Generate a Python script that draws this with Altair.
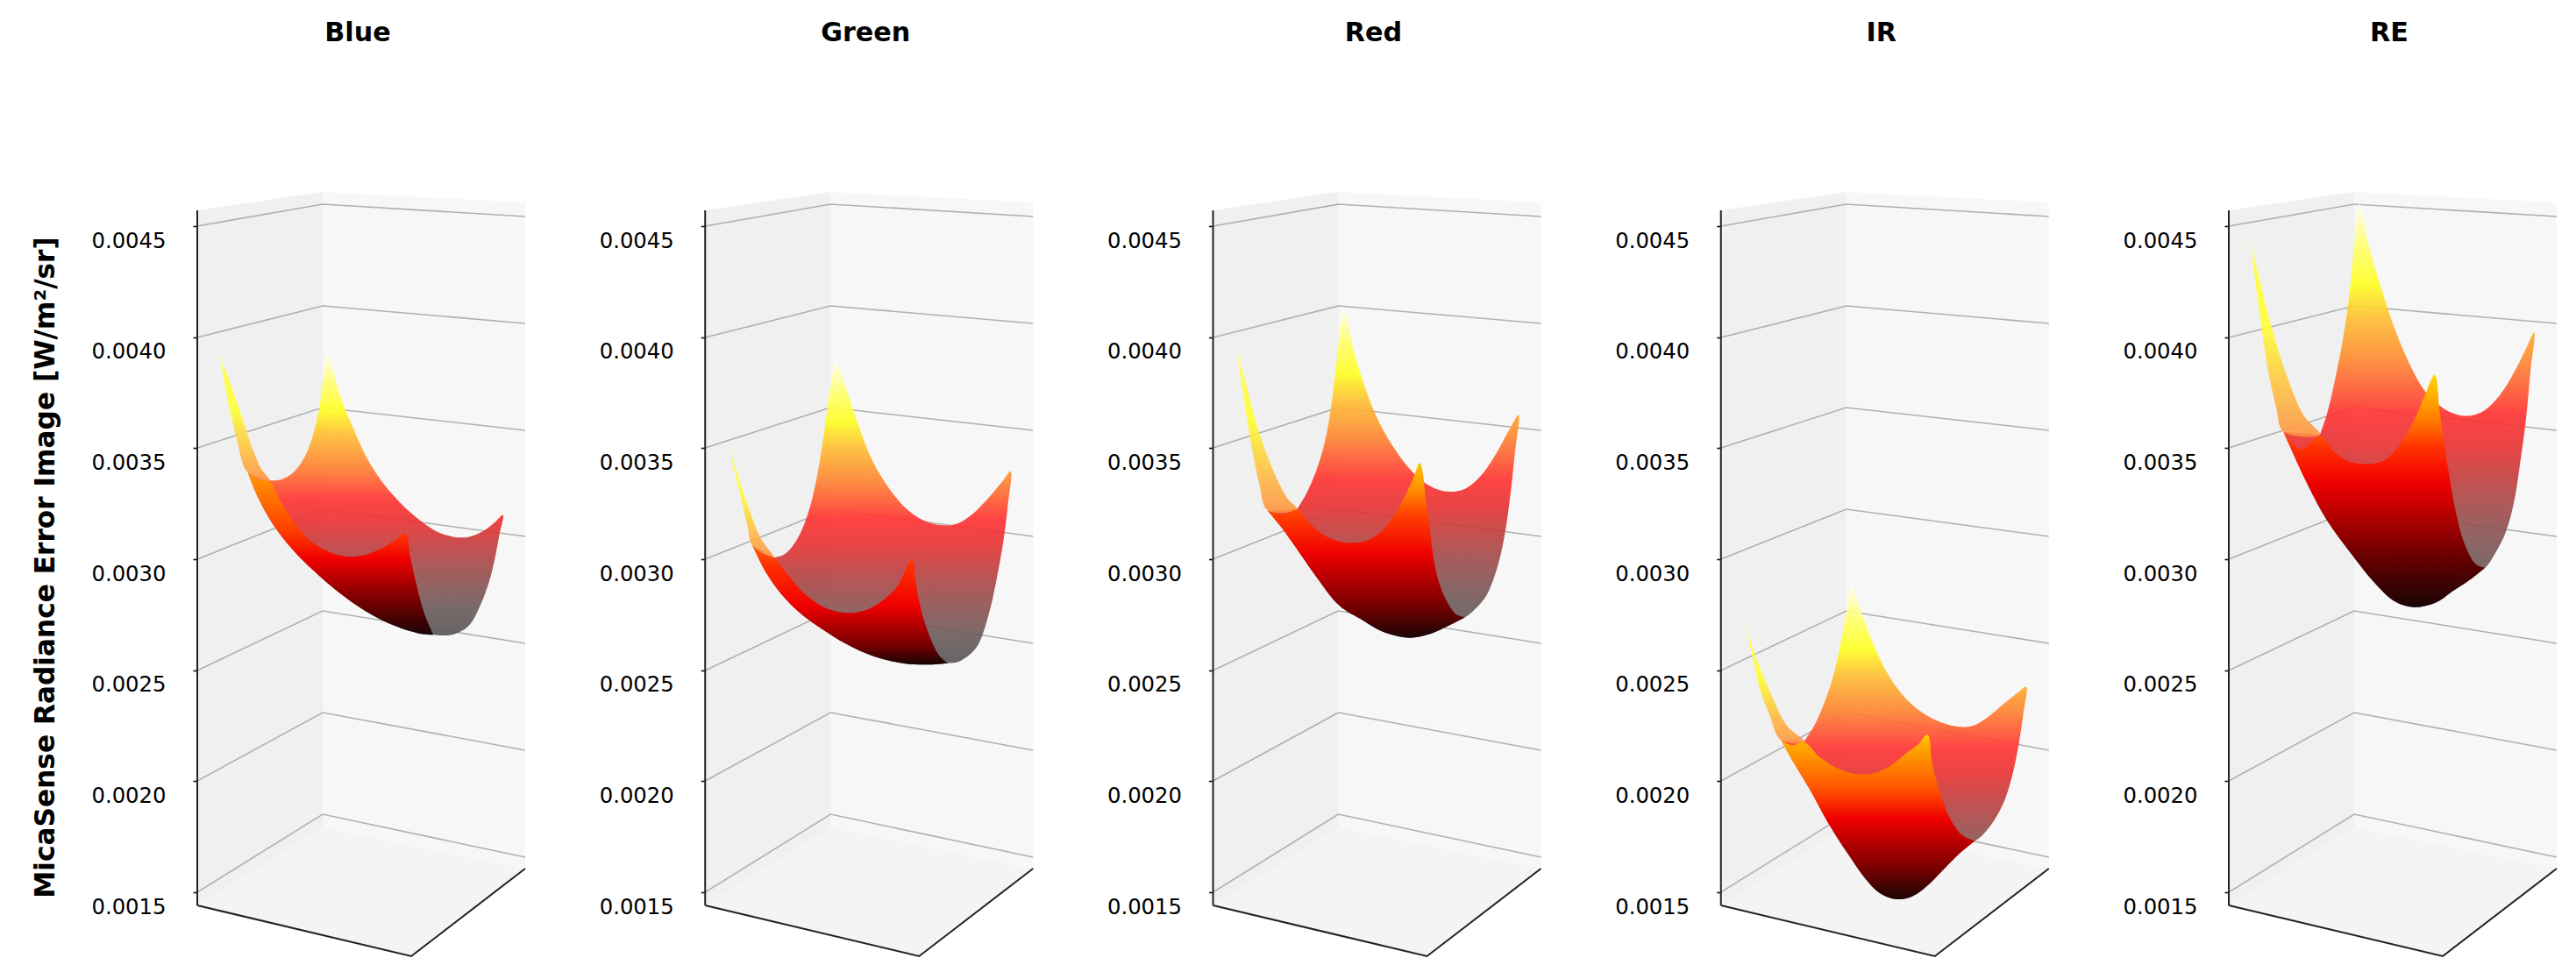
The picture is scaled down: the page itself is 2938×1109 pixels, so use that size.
import altair as alt
import pandas as pd

BANDS = ["Blue", "Green", "Red", "IR", "RE"]
Z_TICKS = [0.0015, 0.0020, 0.0025, 0.0030, 0.0035, 0.0040, 0.0045]
Y_TITLE = "MicaSense Radiance Error Image [W/m²/sr]"

# Height readings are taken in picture rows and turned into axis values below.
GRID_X = [224, 367, 598]
GRID_LEFT = [257, 384, 510, 637, 764, 890, 1017]
GRID_BACK = [232, 348, 464, 580, 696, 812, 928]
GRID_RIGHT = [246, 368, 490, 611, 733, 855, 977]

LEFT_PANE = [(224, 239), (367, 218), (367, 943), (224, 1032)]
RIGHT_PANE = [(367, 218), (598, 230), (598, 990), (367, 943)]
FLOOR_PANE = [(224, 1032), (367, 943), (598, 990), (468, 1090)]
Z_LINE = [(224, 239), (224, 1032)]
FLOOR_LINE = [(224, 1032), (468, 1090), (598, 990)]

# Surface outlines, one group per band (x, y inside the zoomed panel crop).
CROP_Y = [370, 390, 330, 640, 210]

blue_back_top = [(320,532),(360,528),(400,505),(440,450),(470,370),(490,280),(505,170),(518,100),(560,240),(600,340),(650,450),(700,530),(750,590),(800,640),(850,680),(900,710),(950,725),(1000,725),(1050,705),(1090,675),(1118,650)]
blue_right_sil = [(1105,720),(1090,800),(1070,880),(1040,960),(1000,1030),(950,1058),(900,1062)]
blue_low_sil = [(880,1060),(830,1055),(750,1030),(650,980),(550,910),(470,840),(400,770),(330,680),(280,590),(245,505)]
blue_up_sil = [(205,380),(175,250),(148,100)]
blue_strip_right = [(180,185),(220,300),(260,420),(290,490),(320,532)]
blue_strip_low = [(245,505),(280,530),(320,536)]
blue_front_left = [(350,590),(400,670),(450,730),(500,765),(550,785),(600,792),(650,785),(700,765),(750,735),(785,712)]
blue_f_edge = [(800,790),(820,880),(850,990),(880,1060)]
blue_front_stops = [(1060,"#1a0505"),(950,"#700000"),(800,"#f00000"),(700,"#ff4000"),(560,"#ff8000"),(500,"#ffa000")]

green_back_top = [(305,735),(340,725),(380,680),(420,590),(450,470),(475,320),(495,180),(517,62),(550,150),(590,270),(640,400),(700,500),(760,570),(820,610),(880,625),(930,620),(980,590),(1040,530),(1090,470),(1115,440)]
green_right_sil = [(1105,560),(1090,680),(1065,820),(1040,930),(1000,1040),(950,1085),(920,1096)]
green_low_sil = [(900,1097),(830,1102),(750,1098),(650,1075),(550,1030),(470,980),(400,930),(330,860),(280,790),(232,695)]
green_up_sil = [(215,630),(190,520),(170,440),(147,342)]
green_strip_right = [(180,450),(220,570),(260,670),(305,735)]
green_strip_low = [(232,695),(270,725),(305,738)]
green_front_left = [(350,790),(400,850),(450,890),(500,915),(560,925),(620,915),(680,880),(730,830),(777,738)]
green_f_edge = [(790,820),(810,920),(840,1010),(870,1070),(900,1097)]
green_front_stops = [(1100,"#1a0505"),(1040,"#700000"),(900,"#f00000"),(760,"#ff3000"),(700,"#ff6000")]

red_back_top = [(355,750),(385,700),(420,620),(450,520),(470,410),(490,250),(515,60),(550,210),(590,340),(630,440),(680,530),(730,600),(785,655),(830,680),(880,690),(930,680),(980,640),(1030,570),(1080,480),(1113,427)]
red_right_sil = [(1100,560),(1085,700),(1065,840),(1040,950),(1000,1050),(950,1105)]
red_low_sil = [(930,1120),(850,1160),(800,1180),(740,1190),(650,1170),(580,1130),(500,1080),(420,980),(350,880),(300,810),(255,755)]
red_up_sil = [(225,660),(195,510),(170,350),(145,185)]
red_strip_right = [(180,320),(220,470),(270,610),(320,710),(355,750)]
red_strip_low = [(255,755),(310,768),(355,752)]
red_front_left = [(400,800),(450,840),(500,860),(550,865),(600,855),(650,820),(700,750),(750,650),(775,592)]
red_f_edge = [(800,750),(830,960),(860,1050),(900,1110),(930,1120)]
red_front_stops = [(1190,"#1a0505"),(1090,"#700000"),(900,"#f00000"),(770,"#ff4000"),(680,"#ff9000"),(600,"#ffc000")]

ir_back_top = [(350,615),(385,560),(420,480),(450,390),(475,280),(495,170),(512,85),(545,170),(590,290),(640,390),(700,470),(760,520),(820,550),(880,565),(930,560),(980,530),(1040,480),(1085,445),(1110,428)]
ir_right_sil = [(1100,520),(1085,620),(1060,740),(1030,830),(990,900),(950,945)]
ir_low_sil = [(935,955),(880,1000),(830,1050),(770,1110),(720,1145),(665,1155),(610,1135),(560,1085),(500,1000),(430,890),(370,780),(310,680),(272,612)]
ir_up_sil = [(230,520),(200,440),(170,310),(145,208)]
ir_strip_right = [(190,340),(240,460),(290,560),(350,615)]
ir_strip_low = [(272,612),(310,628),(350,617)]
ir_front_left = [(400,665),(450,700),(500,720),(550,728),(600,720),(650,695),(700,655),(740,625),(772,592)]
ir_f_edge = [(790,700),(815,790),(850,880),(890,935),(935,955)]
ir_front_stops = [(1155,"#1a0505"),(1060,"#700000"),(880,"#f00000"),(780,"#ff5000"),(700,"#ff8000"),(620,"#ffb000"),(590,"#ffd800")]

re_back_top = [(375,855),(400,780),(430,650),(455,520),(475,380),(490,230),(510,65),(540,200),(580,340),(630,490),(680,610),(730,700),(790,760),(840,785),(890,790),(940,770),(990,720),(1040,640),(1080,560),(1108,505)]
re_right_sil = [(1095,640),(1080,800),(1060,950),(1040,1080),(1010,1190),(975,1260),(950,1300)]
re_low_sil = [(940,1310),(890,1350),(830,1390),(770,1430),(695,1445),(630,1425),(560,1360),(480,1260),(400,1150),(330,1020),(250,845)]
re_up_sil = [(225,760),(195,620),(170,450),(150,300),(135,180)]
re_strip_right = [(170,330),(210,490),(260,650),(320,790),(375,855)]
re_strip_low = [(250,845),(310,905),(375,860)]
re_front_left = [(420,910),(470,945),(530,955),(590,945),(640,900),(690,820),(730,730),(768,650)]
re_f_edge = [(785,780),(810,950),(840,1120),(870,1230),(910,1300),(940,1310)]
re_front_stops = [(1445,"#1a0505"),(1290,"#600000"),(1020,"#f00000"),(900,"#ff3000"),(820,"#ff7000"),(720,"#ffb000"),(650,"#ffd800")]

# Inner side colours against the share of the surface's height range.
BACK_STOPS = [(1.0,"#fffff0"),(0.9,"#ffff70"),(0.8,"#ffff20"),(0.72,"#ffc030"),(0.6,"#ff8030"),(0.48,"#ff3030"),(0.4,"#e83030"),(0.3,"#b84040"),(0.2,"#905050"),(0.1,"#6c5a5a"),(0.0,"#555555")]
# Left sliver colours, top to bottom of the sliver itself.
STRIP_STOPS = [(0.0,"#ffffc0"),(0.15,"#ffff40"),(0.45,"#ffff30"),(0.75,"#ffc040"),(1.0,"#ff9040")]

SURFACES = [
    (blue_back_top, blue_right_sil, blue_low_sil, blue_up_sil, blue_strip_right, blue_strip_low, blue_front_left, blue_f_edge, blue_front_stops),
    (green_back_top, green_right_sil, green_low_sil, green_up_sil, green_strip_right, green_strip_low, green_front_left, green_f_edge, green_front_stops),
    (red_back_top, red_right_sil, red_low_sil, red_up_sil, red_strip_right, red_strip_low, red_front_left, red_f_edge, red_front_stops),
    (ir_back_top, ir_right_sil, ir_low_sil, ir_up_sil, ir_strip_right, ir_strip_low, ir_front_left, ir_f_edge, ir_front_stops),
    (re_back_top, re_right_sil, re_low_sil, re_up_sil, re_strip_right, re_strip_low, re_front_left, re_f_edge, re_front_stops),
]

PX_PER_STEP = 126.67
PLOT_TOP, PLOT_BOTTOM = 205, 1100
X_LEFT, X_RIGHT = 224, 600
STEP = 203.25
FONT = "DejaVu Sans"


def z_of(row):
    return 0.0045 - (row - 257) * 0.0005 / PX_PER_STEP


X = alt.X("x:Q", scale=alt.Scale(domain=[X_LEFT, X_RIGHT], nice=False, zero=False), axis=None)
Y_SCALE = alt.Scale(domain=[z_of(PLOT_BOTTOM), z_of(PLOT_TOP)], nice=False, zero=False)


def table(points):
    return pd.DataFrame({"x": [p[0] for p in points], "z": [z_of(p[1]) for p in points], "i": list(range(len(points)))})


def gradient(stops, points):
    rows = [p[1] for p in points]
    top, bottom = min(rows), max(rows)
    ordered = sorted(stops, key=lambda s: s[0])
    return alt.Gradient(gradient="linear", x1=0, x2=0, y1=0, y2=1, stops=[
        alt.GradientStop(color=c, offset=min(1, max(0, (r - top) / (bottom - top)))) for r, c in ordered])


def band_panel(n):
    back_top, right_sil, low_sil, up_sil, strip_right, strip_low, front_left, f_edge, front_stops = SURFACES[n]
    cy = CROP_Y[n]

    def place(pts):
        return [(200 + 0.75 * n + vx / 3, cy + vy / 3) for vx, vy in pts]

    y_axis = alt.Axis(
        values=Z_TICKS, format=".4f", domain=False, grid=False, ticks=True, tickSize=5, tickWidth=1.6,
        tickColor="#111111", labelOffset=17, labelPadding=31, labelFontSize=24.3, labelFont=FONT,
        labelColor="#000000", title=Y_TITLE if n == 0 else None, titleFont=FONT, titleFontSize=31.2,
        titleFontWeight="bold", titleColor="#000000", titlePadding=35, titleY=441)
    Y = alt.Y("z:Q", scale=Y_SCALE, axis=y_axis)

    def polygon(points, fill, opacity=1.0, curve="linear"):
        return alt.Chart(table(points)).mark_line(
            fill=fill, stroke="transparent", strokeWidth=0, opacity=opacity, clip=True, interpolate=curve
        ).encode(x=X, y=Y, order="i:O")

    back = place(back_top + right_sil + low_sil)
    strip = place(up_sil[-1:] + strip_right + low_sil[-1:] + up_sil)
    front = place(strip_low + front_left + f_edge + low_sil)

    tip = min(p[1] for p in back)
    low = max(p[1] for p in back)
    back_stops = [(low - t * (low - tip), c) for t, c in BACK_STOPS]
    placed_front_stops = [(cy + r / 3, c) for r, c in front_stops]
    strip_rows = [p[1] for p in strip]
    strip_stops = [(min(strip_rows) + f * (max(strip_rows) - min(strip_rows)), c) for f, c in STRIP_STOPS]

    grid = pd.DataFrame([
        {"x": x, "z": z_of(r), "tick": str(k), "i": j}
        for k, rows in enumerate(zip(GRID_LEFT, GRID_BACK, GRID_RIGHT))
        for j, (x, r) in enumerate(zip(GRID_X, rows))
    ])
    panes = [polygon(LEFT_PANE, "#f0f0f0"), polygon(RIGHT_PANE, "#f7f7f7"), polygon(FLOOR_PANE, "#f4f4f4")]
    grid_lines = alt.Chart(grid).mark_line(color="#b0b0b0", strokeWidth=1.6).encode(
        x=X, y=Y, detail="tick:N", order="i:O")
    edges = [
        alt.Chart(table(pts)).mark_line(color="#222222", strokeWidth=2).encode(x=X, y=Y, order="i:O")
        for pts in (Z_LINE, FLOOR_LINE)
    ]
    surface = [
        polygon(back, gradient(back_stops, back), 0.9, "catmull-rom"),
        polygon(strip, gradient(strip_stops, strip), 0.88, "catmull-rom"),
        polygon(front, gradient(placed_front_stops, front), 1.0, "catmull-rom"),
    ]
    return alt.layer(*panes, grid_lines, *edges, *surface).properties(
        width=X_RIGHT - X_LEFT,
        height=PLOT_BOTTOM - PLOT_TOP,
        title=alt.TitleParams(BANDS[n], font=FONT, fontSize=30.2, fontWeight="bold", color="#000000",
                              anchor="middle", dx=-5, offset=153),
    )


chart = alt.hconcat(*[band_panel(n) for n in range(5)], spacing=STEP, bounds="flush").properties(
    padding={"left": 28, "top": 14, "right": 0, "bottom": 0}
).configure_view(stroke=None)

chart.save("out.html", embed_options={"renderer": "svg", "actions": False})
